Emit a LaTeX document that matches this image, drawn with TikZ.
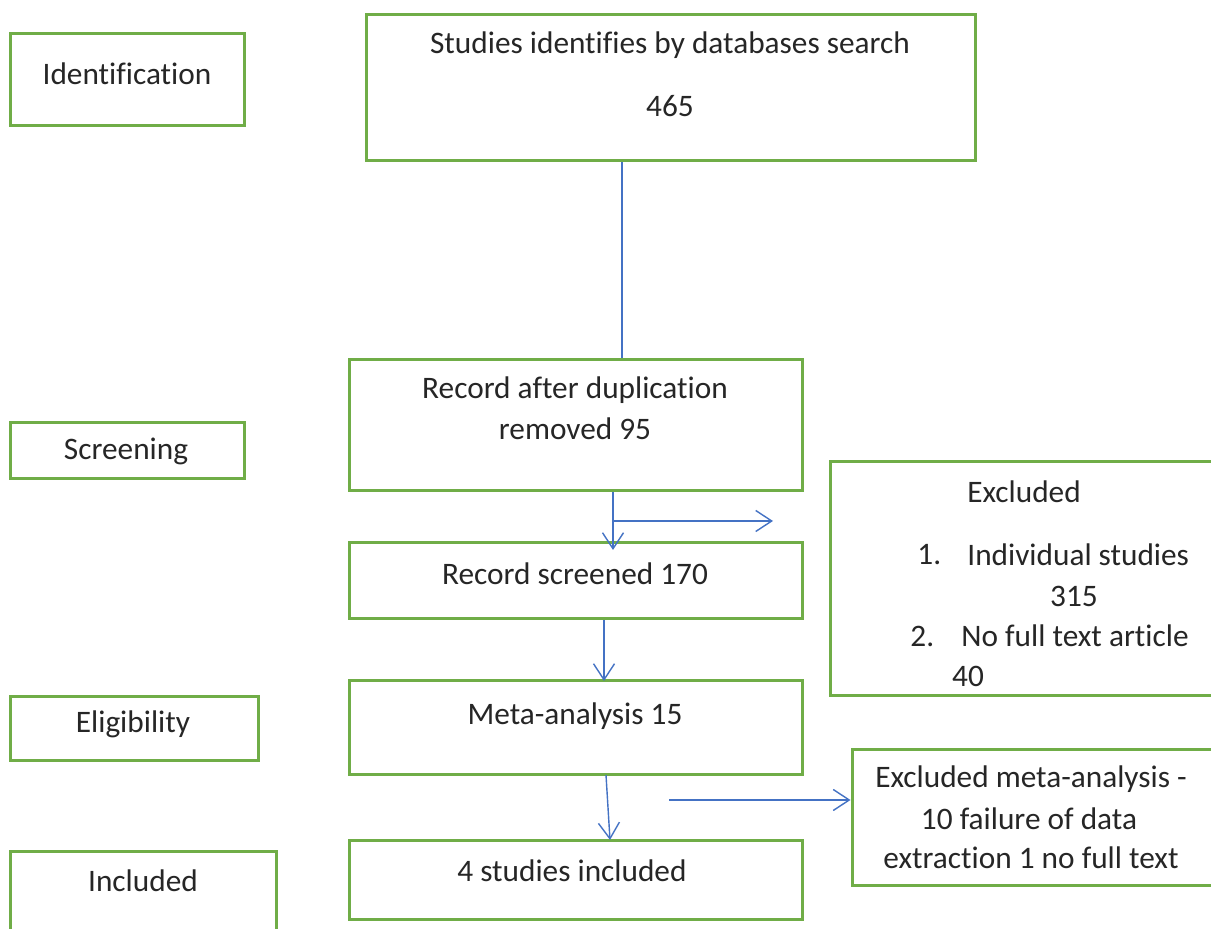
\documentclass[tikz,border=0pt]{standalone}
\usepackage{fontspec}
\setmainfont{Carlito}[Ligatures=NoCommon]
\usetikzlibrary{arrows.meta,fit,calc}
\definecolor{boxgreen}{HTML}{70AD47}
\definecolor{lineblue}{HTML}{4472C4}
\tikzset{
  box/.style={draw=boxgreen, line width=1.5pt, inner sep=0pt, rectangle},
  txt/.style={inner sep=0pt, text=black!85, font=\fontsize{15.65}{19.5}\selectfont},
  conn/.style={draw=lineblue, line width=0.7pt},
  arr/.style={conn, -{Straight Barb[length=8pt,width=10.5pt,line width=0.7pt]}},
}
\newcommand\pxbox[5]{%
  \coordinate (#1-a) at (#2,#3);
  \coordinate (#1-b) at (#4,#5);
  \node[box, fit=(#1-a)(#1-b)] (#1) {};}
\begin{document}
\begin{tikzpicture}[x=0.5pt,y=-0.5pt]
\useasboundingbox (0,0) rectangle (1211,929);
\clip (0,0) rectangle (1211,929);
\fill[white] (0,0) rectangle (1211,929);
% left stage boxes
\pxbox{idb}{10}{34}{244}{126}
\node[txt] (idt) at (127,74) {Identification};
\pxbox{scb}{10}{423}{244}{479}
\node[txt] (sct) at (126,451) {Screening};
\pxbox{elb}{10}{697}{258}{761}
\node[txt] (elt) at (133,724) {Eligibility};
\pxbox{inb}{10}{852}{276}{945}
\node[txt] (intt) at (143,881) {Included};
% main column
\pxbox{top}{366}{15}{975}{161}
\node[txt] (topt1) at (670,45) {Studies identifies by databases search};
\node[txt] (topt2) at (670,106) {465};
\pxbox{dup}{349}{360}{802}{491}
\node[txt] (dupt1) at (575,390) {Record after duplication};
\node[txt] (dupt2) at (575,429) {removed 95};
\pxbox{scr}{349}{543}{802}{619}
\node[txt] (scrt) at (575,574) {Record screened 170};
\pxbox{meta}{349}{681}{802}{775}
\node[txt] (metat) at (575,716) {Meta-analysis 15};
\pxbox{inc}{349}{841}{802}{920}
\node[txt] (inct) at (572,871) {4 studies included};
% right column
\pxbox{exc}{830}{462}{1230}{696}
\node[txt] (exct) at (1024,492) {Excluded};
\node[txt,anchor=west] (exc1n) at (917,555) {1.};
\node[txt,anchor=west] (exc1) at (967,555) {Individual studies};
\node[txt] (exc1b) at (1074,596) {315};
\node[txt,anchor=west] (exc2n) at (910,636) {2.};
\node[txt,anchor=west] (exc2) at (961,636) {No full text article};
\node[txt] (exc2b) at (968,676) {40};
\pxbox{exm}{852}{750}{1230}{886}
\node[txt] (exmt1) at (1031,779) {Excluded meta-analysis -};
\node[txt] (exmt2) at (1029,819) {10 failure of data};
\node[txt] (exmt3) at (1031,858) {extraction 1 no full text};
% connectors
\coordinate (c1) at (622,0);
\coordinate (c2) at (613,0);
\coordinate (c2t) at (613,550);
\coordinate (c2b) at (613,521);
\coordinate (c2e) at (773,521);
\coordinate (c3) at (604,0);
\coordinate (c3t) at (604,681);
\coordinate (c4s) at (606,775);
\coordinate (c4t) at (610,840);
\coordinate (c5s) at (669,800);
\draw[conn] (top.south -| c1) -- (dup.north -| c1);
\draw[arr] (dup.south -| c2) -- (c2t);
\draw[arr] (c2b) -- (c2e);
\draw[arr] (scr.south -| c3) -- (c3t);
\draw[arr] (c4s) -- (c4t);
\draw[arr] (c5s) -- (c5s -| exm.west);
\end{tikzpicture}
\end{document}
